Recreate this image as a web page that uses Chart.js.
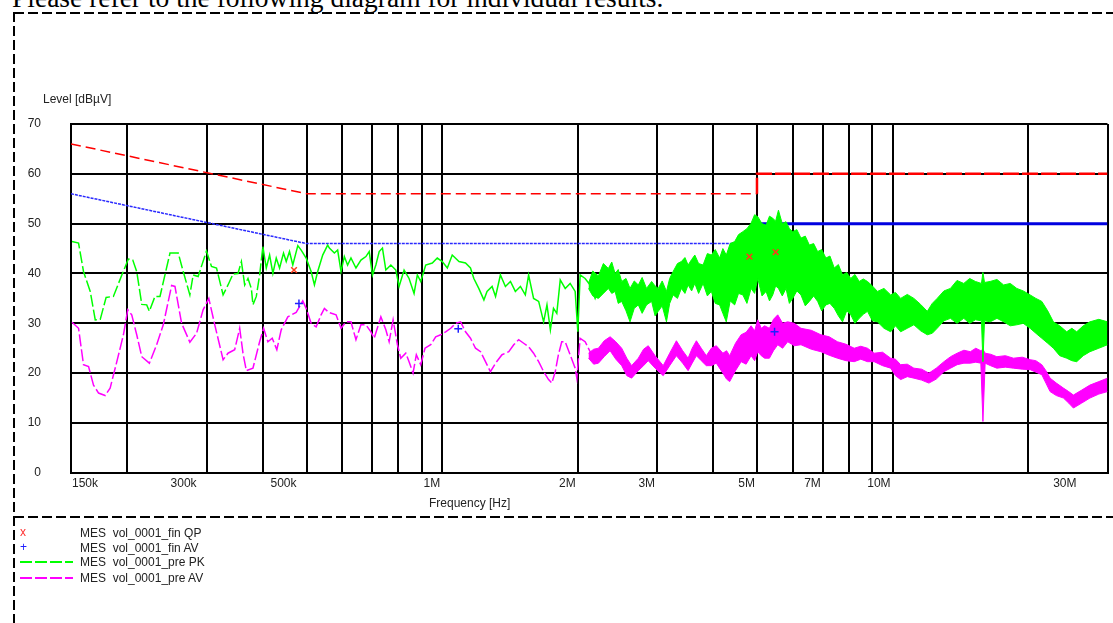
<!DOCTYPE html>
<html>
<head>
<meta charset="utf-8">
<script src="https://cdn.jsdelivr.net/npm/chart.js@4.4.1/dist/chart.umd.min.js"></script>
<style>
    body { margin: 0; background: #fff; width: 1113px; height: 623px; overflow: hidden; position: relative; }
    #emiChart { position: absolute; left: 0; top: 0; }
    .txt { position: absolute; font-family: "Liberation Sans", Arial, sans-serif; font-size: 12px; line-height: 12px; color: #222; white-space: pre; }
    .note { position: absolute; left: 12px; top: -16px; font-family: "Liberation Serif", "Times New Roman", serif; font-size: 27.5px; line-height: 27.5px; color: #000; white-space: nowrap; }
    .dash-h { position: absolute; height: 2px; background: repeating-linear-gradient(to right, #000 0 10px, transparent 10px 14px); }
    .dash-v { position: absolute; width: 2px; background: repeating-linear-gradient(to bottom, #000 0 10px, transparent 10px 14px); }
    .leg-line { position: absolute; left: 20px; width: 53px; height: 2px; }
</style>
</head>
<body>

<div class="note">Please refer to the following diagram for individual results.</div>

<canvas id="emiChart" width="1113" height="510"></canvas>

<div class="dash-h" style="left:14px; top:12px; width:1099px;"></div>
<div class="dash-v" style="left:13px; top:12px; height:611px;"></div>
<div class="dash-h" style="left:14px; top:516px; width:1099px;"></div>

<div class="txt" style="left:43px; top:93px;">Level [dBµV]</div>
<div class="txt" style="left:429px; top:497px;">Frequency [Hz]</div>

<div class="txt" style="left:20px; top:526px; color:#ff3030;">x</div>
<div class="txt" style="left:20px; top:541px; color:#2020ff;">+</div>
<div class="leg-line" style="top:561px; background: repeating-linear-gradient(to right, #00ff00 0 12px, transparent 12px 15px);"></div>
<div class="leg-line" style="top:577px; background: repeating-linear-gradient(to right, #ff00ff 0 12px, transparent 12px 15px);"></div>
<div class="txt" style="left:80px; top:527px;">MES  vol_0001_fin QP</div>
<div class="txt" style="left:80px; top:542px;">MES  vol_0001_fin AV</div>
<div class="txt" style="left:80px; top:556px;">MES  vol_0001_pre PK</div>
<div class="txt" style="left:80px; top:572px;">MES  vol_0001_pre AV</div>

<script>
/* ── DADOS ── */
const xGridMHz = [0.15, 0.2, 0.3, 0.4, 0.5, 0.6, 0.7, 0.8, 0.9, 1, 2, 3, 4, 5, 6, 7, 8, 9, 10, 20, 30];
const xTickMHz = [0.15, 0.3, 0.5, 1, 2, 3, 5, 7, 10, 30];
const xTickText = ['150k', '300k', '500k', '1M', '2M', '3M', '5M', '7M', '10M', '30M'];

// limites (QP e AV)
const limitFreq = [0.15, 0.5, 5, 5, 30];
const qpLimit = [66, 56, 56, 60, 60];
const avLimit = [56, 46, 46, 50, 50];

// medições finais
const qpMarkFreq = [0.469, 4.81, 5.50];
const qpMarkLevel = [40.7, 43.4, 44.3];
const avMarkFreq = [0.481, 1.086, 5.47];
const avMarkLevel = [34.0, 28.9, 28.3];

// pré-varredura PK (parte em linha)
const pkFreq = [0.1508, 0.1559, 0.1599, 0.1655, 0.1698, 0.1742, 0.1795, 0.1863, 0.1945, 0.2011,
    0.2057, 0.2099, 0.2154, 0.2209, 0.2239, 0.2304, 0.2364, 0.2488, 0.2595, 0.2662,
    0.2754, 0.2801, 0.2873, 0.2998, 0.3076, 0.3156, 0.3264, 0.3347, 0.3434, 0.3522,
    0.3584, 0.3645, 0.3707, 0.3771, 0.3802, 0.3868, 0.3934, 0.4000, 0.4070, 0.4140,
    0.4210, 0.4283, 0.4356, 0.4445, 0.4507, 0.4583, 0.4661, 0.4782, 0.4865, 0.4990,
    0.5119, 0.5206, 0.5294, 0.5431, 0.5570, 0.5619, 0.5765, 0.5862, 0.5964, 0.6066,
    0.6168, 0.6275, 0.6437, 0.6603, 0.6773, 0.6888, 0.7005, 0.7127, 0.7249, 0.7371,
    0.7500, 0.7694, 0.7892, 0.8025, 0.8233, 0.8445, 0.8663, 0.8810, 0.8964, 0.9195,
    0.9510, 0.9755, 1.0008, 1.027, 1.053, 1.090, 1.127, 1.156, 1.176, 1.206,
    1.238, 1.258, 1.291, 1.314, 1.347, 1.382, 1.418, 1.454, 1.492, 1.530,
    1.556, 1.596, 1.638, 1.680, 1.709, 1.739, 1.767, 1.797, 1.829, 1.876,
    1.924, 1.974, 2.001, 2.025, 2.077, 2.131, 2.186, 2.215];
const pkLevel = [46.4, 46.1, 40.4, 36.4, 30.7, 30.8, 35.2, 35.4, 39.7, 42.9,
    42.7, 40.4, 33.8, 33.7, 32.4, 35.4, 35.4, 44.1, 44.1, 40.4,
    35.7, 39.7, 39.4, 44.5, 41.4, 41.1, 35.7, 37.7, 39.9, 40.0,
    42.4, 37.7, 39.0, 37.0, 33.7, 35.4, 39.7, 45.4, 41.1, 43.7,
    40.0, 43.1, 41.1, 44.1, 42.4, 44.4, 41.7, 45.6, 44.7, 43.1,
    40.4, 37.7, 40.4, 43.7, 45.7, 45.1, 44.1, 44.7, 40.4, 43.4,
    41.7, 43.1, 41.1, 42.7, 43.4, 44.4, 39.7, 41.7, 44.4, 45.1,
    40.7, 41.7, 40.7, 37.4, 40.7, 39.0, 36.0, 39.7, 38.4, 41.7,
    42.1, 43.1, 42.4, 41.1, 43.7, 42.4, 42.1, 41.1, 39.0, 37.0,
    34.7, 36.4, 37.4, 35.4, 39.7, 37.4, 38.4, 36.4, 37.4, 35.7,
    39.7, 35.0, 34.4, 30.3, 33.7, 28.7, 33.0, 32.0, 38.7, 37.0,
    38.0, 36.4, 28.3, 39.7, 39.0, 37.7, 35.0, 36.4];

// pré-varredura PK (faixa ruidosa, envelope superior/inferior)
const pkBandFreq = [2.113, 2.16, 2.223, 2.28, 2.339, 2.38, 2.421, 2.46, 2.504, 2.56,
    2.613, 2.67, 2.726, 2.78, 2.843, 2.918, 2.97, 3.018, 3.08, 3.148,
    3.20, 3.257, 3.33, 3.397, 3.46, 3.516, 3.58, 3.639, 3.71, 3.796,
    3.88, 3.960, 4.04, 4.131, 4.20, 4.274, 4.36, 4.461, 4.55, 4.652,
    4.75, 4.852, 4.94, 5.020, 5.13, 5.238, 5.33, 5.420, 5.50, 5.580,
    5.69, 5.800, 5.90, 6.002, 6.13, 6.261, 6.40, 6.535, 6.68, 6.818,
    6.96, 7.112, 7.26, 7.422, 7.58, 7.743, 7.91, 8.077, 8.25, 8.431,
    8.61, 8.796, 9.02, 9.254, 9.57, 9.903, 10.15, 10.42, 10.78, 11.15,
    11.54, 11.94, 12.25, 12.56, 13.0, 13.44, 13.9, 14.39, 14.83, 15.27,
    15.75, 15.87, 16.0, 16.47, 17.05, 17.64, 18.25, 18.87, 19.5, 20.20,
    20.8, 21.44, 22.1, 22.75, 23.5, 24.35, 25.0, 25.63, 26.5, 27.42,
    28.7, 30];
const pkBandHigh = [38.0, 40.5, 39.5, 42.0, 41.0, 42.3, 40.0, 40.8, 38.4, 39.0,
    37.0, 38.5, 37.7, 39.2, 37.0, 38.4, 37.5, 37.0, 38.5, 36.4,
    39.0, 40.4, 42.0, 42.4, 43.2, 41.7, 42.8, 43.7, 42.0, 41.7,
    44.0, 43.7, 44.8, 43.1, 45.0, 43.7, 46.0, 46.4, 47.8, 48.4,
    49.0, 50.1, 51.8, 51.4, 50.0, 49.7, 51.5, 51.1, 50.5, 52.7,
    50.0, 50.4, 49.0, 48.4, 48.8, 47.1, 47.5, 45.7, 46.0, 44.4,
    44.8, 43.1, 43.5, 41.1, 41.8, 39.7, 40.2, 39.0, 39.8, 38.4,
    38.9, 38.4, 37.5, 36.4, 37.0, 35.7, 36.2, 35.0, 35.8, 35.0,
    33.8, 32.4, 34.0, 35.0, 36.5, 37.0, 38.6, 38.0, 39.0, 38.4,
    38.0, 40.2, 38.2, 38.4, 38.8, 37.7, 38.0, 37.0, 36.5, 35.7,
    35.0, 34.4, 32.5, 30.3, 29.5, 28.3, 29.0, 28.3, 29.5, 30.3,
    30.8, 30.3];
const pkBandLow = [37.0, 35.5, 35.0, 36.0, 37.0, 36.0, 36.4, 34.0, 34.4, 32.5,
    30.3, 33.0, 33.7, 32.0, 33.7, 34.4, 31.5, 32.4, 33.5, 30.3,
    34.0, 35.7, 35.0, 37.0, 36.0, 37.7, 36.5, 38.0, 36.0, 38.0,
    35.5, 36.4, 34.0, 33.7, 32.0, 30.3, 34.5, 33.7, 36.0, 35.7,
    34.0, 37.0, 36.0, 39.0, 35.5, 36.4, 34.5, 35.7, 37.5, 37.0,
    35.5, 37.0, 34.0, 35.0, 36.5, 35.7, 33.5, 34.4, 35.5, 34.4,
    32.5, 33.7, 34.0, 33.0, 31.5, 30.3, 32.5, 31.7, 30.0, 31.0,
    31.8, 32.4, 30.5, 30.3, 29.0, 28.3, 29.5, 28.3, 29.0, 29.7,
    28.5, 27.7, 28.0, 29.0, 30.5, 31.0, 30.0, 31.0, 30.0, 30.7,
    30.5, 22.3, 30.5, 30.3, 31.0, 30.3, 29.5, 29.7, 30.0, 29.0,
    28.0, 27.0, 26.0, 25.0, 23.5, 23.0, 22.5, 22.3, 23.5, 24.3,
    25.0, 25.7];

// pré-varredura AV (parte em linha)
const avFreq = [0.1508, 0.1559, 0.1599, 0.1641, 0.1683, 0.1727, 0.1786, 0.1832, 0.1896, 0.1961,
    0.2005, 0.2046, 0.2099, 0.2154, 0.2239, 0.2324, 0.2404, 0.2509, 0.2552, 0.2640,
    0.2754, 0.2850, 0.2947, 0.3034, 0.3128, 0.3264, 0.3347, 0.3463, 0.3553, 0.3613,
    0.3676, 0.3802, 0.3934, 0.4015, 0.4104, 0.4196, 0.4296, 0.4393, 0.4544, 0.4742,
    0.4905, 0.4990, 0.5119, 0.5252, 0.5386, 0.5478, 0.5599, 0.5815, 0.5964, 0.6119,
    0.6275, 0.6437, 0.6603, 0.6773, 0.6948, 0.7066, 0.7311, 0.7500, 0.7627, 0.7784,
    0.7957, 0.8095, 0.8304, 0.8445, 0.8619, 0.8765, 0.8964, 0.9162, 0.9432, 0.9676,
    0.9927, 1.018, 1.045, 1.071, 1.099, 1.127, 1.156, 1.186, 1.217, 1.248,
    1.280, 1.314, 1.358, 1.406, 1.442, 1.479, 1.517, 1.556, 1.596, 1.638,
    1.680, 1.723, 1.752, 1.783, 1.812, 1.843, 1.876, 1.924, 1.974, 1.991,
    2.025, 2.077, 2.131, 2.186, 2.215];
const avLevel = [30.2, 29.0, 21.7, 21.3, 17.6, 16.0, 15.5, 17.0, 22.3, 27.7,
    32.7, 31.7, 27.7, 23.3, 22.0, 25.7, 29.7, 37.6, 37.4, 30.0,
    26.2, 28.0, 32.7, 35.0, 29.7, 22.7, 24.0, 24.7, 29.0, 24.0,
    20.5, 21.0, 26.3, 29.0, 26.3, 27.0, 24.7, 28.7, 31.3, 32.2,
    34.5, 33.0, 30.0, 29.3, 31.7, 33.0, 32.2, 31.7, 29.0, 30.3,
    30.3, 26.7, 29.7, 29.7, 28.3, 27.0, 31.3, 28.7, 26.3, 30.7,
    25.7, 23.0, 24.0, 22.3, 20.0, 23.7, 21.7, 25.0, 25.7, 27.3,
    27.7, 28.3, 29.0, 30.0, 30.3, 28.3, 27.0, 25.0, 24.3, 22.3,
    20.3, 22.0, 23.7, 24.3, 25.7, 26.7, 26.0, 25.3, 24.0, 22.3,
    20.3, 18.7, 18.0, 20.3, 23.7, 26.3, 26.3, 23.7, 21.0, 19.0,
    27.0, 26.3, 24.3, 22.3, 23.3];

// pré-varredura AV (faixa ruidosa)
const avBandFreq = [2.113, 2.17, 2.223, 2.29, 2.360, 2.43, 2.504, 2.57, 2.634, 2.726,
    2.80, 2.868, 2.970, 3.096, 3.200, 3.312, 3.420, 3.516, 3.59, 3.668,
    3.760, 3.859, 3.96, 4.061, 4.200, 4.28, 4.349, 4.48, 4.611, 4.73,
    4.852, 4.94, 5.020, 5.11, 5.200, 5.328, 5.44, 5.560, 5.70, 5.850,
    6.05, 6.261, 6.60, 6.931, 7.23, 7.546, 7.88, 8.220, 8.50, 8.796,
    9.100, 9.50, 9.903, 10.15, 10.42, 10.78, 11.15, 11.6, 12.04, 12.5,
    13.00, 13.45, 13.91, 14.4, 14.88, 15.30, 15.70, 15.87, 16.05, 16.5,
    17.04, 17.8, 18.55, 19.4, 20.20, 20.8, 21.44, 21.9, 22.37, 23.1,
    23.95, 24.6, 25.20, 26.3, 27.42, 28.7, 30];
const avBandHigh = [24.0, 24.8, 25.0, 26.5, 27.3, 26.3, 25.0, 23.0, 21.5, 23.0,
    24.8, 25.5, 23.5, 21.5, 24.0, 26.5, 24.5, 23.0, 25.0, 26.5,
    25.0, 23.5, 25.0, 25.5, 24.0, 24.5, 23.5, 26.0, 27.7, 28.2,
    29.5, 28.5, 30.7, 29.0, 29.5, 29.0, 30.8, 31.7, 30.0, 30.3,
    30.0, 29.0, 28.6, 27.7, 27.3, 26.3, 25.8, 25.0, 25.4, 25.0,
    24.0, 24.2, 23.0, 22.8, 21.7, 21.8, 21.0, 20.8, 20.0, 21.0,
    22.3, 23.3, 24.0, 24.6, 24.3, 25.0, 24.5, 24.8, 24.0, 23.8,
    23.3, 23.5, 23.0, 23.2, 22.7, 22.5, 21.7, 20.5, 19.0, 18.0,
    17.0, 16.3, 15.6, 16.6, 17.6, 18.3, 19.0];
const avBandLow = [23.0, 21.8, 22.0, 23.3, 24.5, 22.8, 21.5, 19.5, 19.0, 20.5,
    21.5, 22.5, 21.0, 19.5, 21.5, 23.5, 22.0, 20.5, 22.0, 23.5,
    22.5, 21.5, 21.5, 22.0, 20.0, 18.8, 18.3, 20.5, 22.3, 21.8,
    23.5, 22.5, 24.3, 23.5, 23.0, 23.0, 24.5, 25.7, 25.0, 26.3,
    25.5, 25.7, 24.8, 24.3, 23.6, 23.0, 22.5, 22.3, 22.8, 22.3,
    22.3, 21.5, 21.0, 19.5, 18.7, 19.3, 19.0, 18.6, 18.0, 18.8,
    20.3, 21.0, 21.7, 22.0, 22.0, 22.2, 22.0, 10.3, 22.0, 21.5,
    21.0, 21.2, 21.0, 20.8, 20.7, 20.2, 19.7, 18.0, 16.3, 15.5,
    15.0, 14.0, 13.0, 14.0, 15.0, 15.8, 16.3];

const pts = (xs, ys) => xs.map((x, i) => ({ x, y: ys[i] }));

const GREEN = '#00ff00';
const MAGENTA = '#ff00ff';

/* ── RÓTULOS DO EIXO X ── */
const freqLabels = {
    id: 'freqLabels',
    afterDraw(chart) {
        const { ctx, chartArea } = chart;
        const x = chart.scales.x;
        ctx.save();
        ctx.font = '12px "Liberation Sans", Arial, sans-serif';
        ctx.fillStyle = '#222';
        ctx.textBaseline = 'middle';
        xTickMHz.forEach((v, i) => {
            const px = x.getPixelForValue(v);
            let tx = px - (xTickText[i].endsWith('k') ? 10 : 2);
            ctx.textAlign = 'right';
            if (i === 0) {
                ctx.textAlign = 'left';
                tx = px + 1;
            } else if (i === xTickMHz.length - 1) {
                tx = px - 31;
            }
            ctx.fillText(xTickText[i], tx, chartArea.bottom + 11);
        });
        ctx.restore();
    }
};

/* ── GRÁFICO ── */
const lineBase = { pointRadius: 0, tension: 0, fill: false, spanGaps: true };

new Chart(document.getElementById('emiChart'), {
    type: 'line',
    data: {
        datasets: [
            {
                ...lineBase,
                label: 'MES vol_0001_fin QP',
                data: pts(qpMarkFreq, qpMarkLevel),
                showLine: false,
                pointRadius: 4,
                pointStyle: 'crossRot',
                borderColor: '#ff3a1a',
                pointBorderWidth: 1.5
            },
            {
                ...lineBase,
                label: 'MES vol_0001_fin AV',
                data: pts(avMarkFreq, avMarkLevel),
                showLine: false,
                pointRadius: 4,
                pointStyle: 'cross',
                borderColor: '#2020ff',
                pointBorderWidth: 1.5
            },
            {
                ...lineBase,
                label: 'MES vol_0001_pre PK',
                data: pts(pkFreq, pkLevel),
                borderColor: GREEN,
                borderWidth: 1.5,
                segment: {
                    borderDash: c => c.p0.parsed.x >= 0.4 ? [] : [12, 3]
                }
            },
            {
                ...lineBase,
                label: 'PK band high',
                data: pts(pkBandFreq, pkBandHigh),
                borderColor: GREEN,
                backgroundColor: GREEN,
                borderWidth: 1,
                fill: '+1'
            },
            {
                ...lineBase,
                label: 'PK band low',
                data: pts(pkBandFreq, pkBandLow),
                borderColor: GREEN,
                borderWidth: 1
            },
            {
                ...lineBase,
                label: 'MES vol_0001_pre AV',
                data: pts(avFreq, avLevel),
                borderColor: MAGENTA,
                borderWidth: 1.5,
                borderDash: [12, 3]
            },
            {
                ...lineBase,
                label: 'AV band high',
                data: pts(avBandFreq, avBandHigh),
                borderColor: MAGENTA,
                backgroundColor: MAGENTA,
                borderWidth: 1,
                fill: '+1'
            },
            {
                ...lineBase,
                label: 'AV band low',
                data: pts(avBandFreq, avBandLow),
                borderColor: MAGENTA,
                borderWidth: 1
            },
            {
                ...lineBase,
                label: 'QP limit',
                data: pts(limitFreq, qpLimit),
                borderColor: '#ff0000',
                borderWidth: 1.5,
                segment: {
                    borderDash: c => c.p0.parsed.x >= 5 ? [16, 3] : [10, 5],
                    borderWidth: c => c.p0.parsed.x >= 5 ? 2.5 : 1.5
                }
            },
            {
                ...lineBase,
                label: 'AV limit',
                data: pts(limitFreq, avLimit),
                borderColor: '#2a2aff',
                borderWidth: 1.5,
                segment: {
                    borderDash: c => c.p0.parsed.x >= 5 ? [] : [3, 1],
                    borderWidth: c => c.p0.parsed.x >= 5 ? 3 : 1.5,
                    borderColor: c => c.p0.parsed.x >= 5 ? '#0000e0' : '#2a2aff'
                }
            }
        ]
    },
    options: {
        responsive: false,
        animation: false,
        layout: {
            padding: { left: 0, top: 124, right: 5, bottom: 7 }
        },
        plugins: {
            legend: { display: false },
            tooltip: { enabled: false }
        },
        scales: {
            x: {
                type: 'logarithmic',
                min: 0.15,
                max: 30,
                afterBuildTicks: s => {
                    s.ticks = xGridMHz.map(v => ({ value: v }));
                },
                afterFit: s => {
                    s.height = 30;
                },
                ticks: { display: false, autoSkip: false },
                grid: { color: '#000', lineWidth: 2, drawTicks: false },
                border: { color: '#000', width: 2 }
            },
            y: {
                min: 0,
                max: 70,
                afterFit: s => {
                    s.width = 71;
                },
                ticks: {
                    stepSize: 10,
                    padding: 30,
                    color: '#222',
                    font: { family: '"Liberation Sans", Arial, sans-serif', size: 12 }
                },
                grid: { color: '#000', lineWidth: 2, drawTicks: false },
                border: { color: '#000', width: 2 }
            }
        }
    },
    plugins: [freqLabels]
});
</script>
</body>
</html>
